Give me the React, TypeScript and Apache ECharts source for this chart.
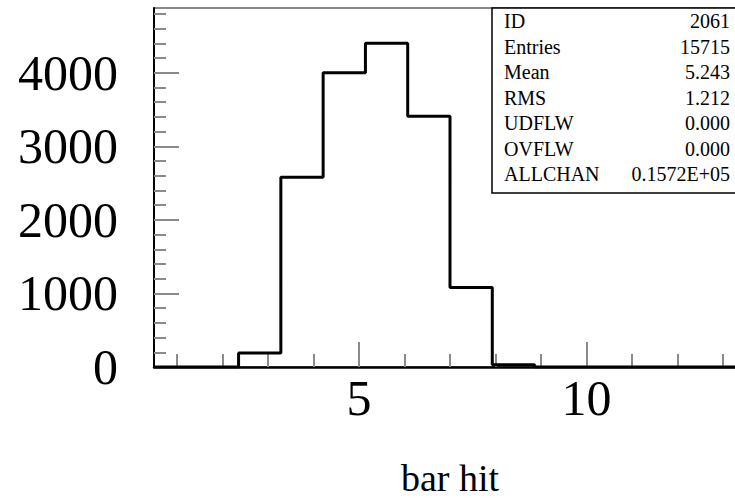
import React, { useEffect, useRef } from "react";
import * as echarts from "echarts";

// Histogram definition: 14 equal bins spanning [0.5, 13.5]
const xMin = 0.5;
const xMax = 13.5;
const binCounts = [0, 0, 190, 2580, 4000, 4400, 3410, 1080, 30, 0, 0, 0, 0, 0];

const yMax = 4880;
const yMajorTicks = [0, 1000, 2000, 3000, 4000];
const yMinorTicks = [200, 400, 600, 800, 1200, 1400, 1600, 1800, 2200, 2400, 2600, 2800, 3200, 3400, 3600, 3800, 4200, 4400, 4600, 4800];
const xMajorTicks = [5, 10];
const xMinorTicks = [1, 2, 3, 4, 6, 7, 8, 9, 11, 12, 13];
const xTitle = "bar hit";

// Statistics box contents
const statNames = ["ID", "Entries", "Mean", "RMS", "UDFLW", "OVFLW", "ALLCHAN"];
const statValues = ["2061", "15715", "5.243", "1.212", "0.000", "0.000", "0.1572E+05"];

const SERIF = "'Liberation Serif', 'Times New Roman', serif";

export default function App() {
  const ref = useRef<HTMLDivElement>(null);

  useEffect(() => {
    if (!ref.current) return;
    const chart = echarts.init(ref.current, null, { renderer: "svg" });

    const binWidth = (xMax - xMin) / binCounts.length;
    const stepData: [number, number][] = binCounts.map((c, i) => [xMin + i * binWidth, c]);
    stepData.push([xMax, binCounts[binCounts.length - 1]]);

    const tickColor = "#8a8a8a";

    const statTexts: any[] = [];
    statNames.forEach((name, i) => {
      const y = 22 + i * 25.5;
      statTexts.push({
        type: "text",
        left: 504,
        top: y - 11,
        style: { text: name, font: `20px ${SERIF}`, fill: "#000" },
        z: 10,
      });
      statTexts.push({
        type: "text",
        right: 5,
        top: y - 11,
        style: { text: statValues[i], font: `20px ${SERIF}`, fill: "#000" },
        z: 10,
      });
    });

    chart.setOption({
      animation: false,
      backgroundColor: "#fff",
      grid: {
        left: 154,
        top: 8,
        right: -11,
        bottom: 131,
        containLabel: false,
        outerBoundsMode: "none",
        show: true,
        borderColor: "#8a8a8a",
        borderWidth: 2,
      },
      xAxis: [
        {
          type: "value",
          min: xMin,
          max: xMax,
          position: "bottom",
          axisLine: { show: true, lineStyle: { color: "#000", width: 2.5 } },
          axisTick: {
            show: true,
            inside: true,
            length: 13,
            customValues: xMinorTicks,
            lineStyle: { color: tickColor, width: 2 },
          },
          axisLabel: { show: false },
          splitLine: { show: false },
        },
        {
          type: "value",
          min: xMin,
          max: xMax,
          position: "bottom",
          axisLine: { show: false },
          axisTick: {
            show: true,
            inside: true,
            length: 25,
            customValues: xMajorTicks,
            lineStyle: { color: tickColor, width: 2 },
          },
          axisLabel: {
            show: true,
            customValues: xMajorTicks,
            formatter: (v: number) => String(v),
            margin: 6,
            fontFamily: SERIF,
            fontSize: 50,
            color: "#000",
          },
          splitLine: { show: false },
          name: xTitle,
          nameLocation: "middle",
          nameGap: 97,
          nameTextStyle: { fontFamily: SERIF, fontSize: 38, lineHeight: 28, color: "#000" },
        },
      ],
      yAxis: [
        {
          type: "value",
          min: 0,
          max: yMax,
          position: "left",
          axisLine: { show: true, lineStyle: { color: "#000", width: 2 } },
          axisTick: {
            show: true,
            inside: true,
            length: 12,
            customValues: yMinorTicks,
            lineStyle: { color: tickColor, width: 2 },
          },
          axisLabel: { show: false },
          splitLine: { show: false },
        },
        {
          type: "value",
          min: 0,
          max: yMax,
          position: "left",
          axisLine: { show: false },
          axisTick: {
            show: true,
            inside: true,
            length: 25,
            customValues: yMajorTicks,
            lineStyle: { color: tickColor, width: 2 },
          },
          axisLabel: {
            show: true,
            customValues: yMajorTicks,
            formatter: (v: number) => String(v),
            margin: 36,
            fontFamily: SERIF,
            fontSize: 50,
            color: "#000",
          },
          splitLine: { show: false },
        },
      ],
      series: [
        {
          type: "line",
          xAxisIndex: 0,
          yAxisIndex: 0,
          step: "end",
          data: stepData,
          showSymbol: false,
          symbol: "none",
          lineStyle: { color: "#000", width: 3 },
          z: 5,
        },
      ],
      graphic: [
        {
          type: "rect",
          shape: { x: 492, y: 8, width: 260, height: 185 },
          style: { fill: "#fff", stroke: "#000", lineWidth: 1.5 },
          z: 9,
        },
        ...statTexts,
      ],
    });

    return () => chart.dispose();
  }, []);

  return (
    <div
      ref={ref}
      style={{ position: "fixed", left: 0, top: 0, width: 735, height: 498, background: "#fff" }}
    />
  );
}
